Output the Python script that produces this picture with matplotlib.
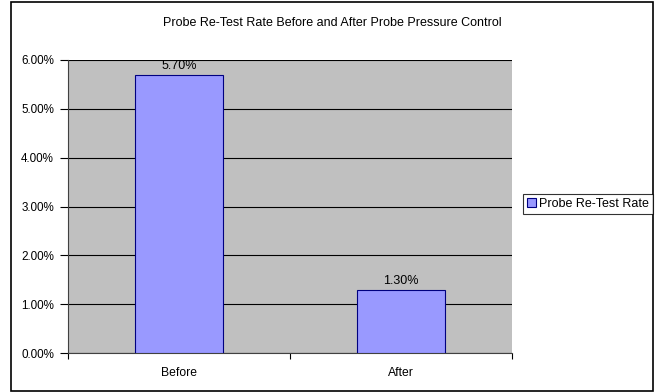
import matplotlib.pyplot as plt
import matplotlib.patches as patches
from matplotlib.ticker import FuncFormatter, FixedLocator

categories = ['Before', 'After']
retest_rate = [0.057, 0.013]
series_name = 'Probe Re-Test Rate'
title = 'Probe Re-Test Rate Before and After Probe Pressure Control'

plt.rcParams['font.family'] = ['Liberation Sans', 'DejaVu Sans']

W, H = 655, 392
fig = plt.figure(figsize=(W / 100, H / 100), dpi=100)

# plot area in pixel coords (left, top, right, bottom)
l, t, r, b = 68, 60, 512, 353
ax = fig.add_axes([l / W, 1 - b / H, (r - l) / W, (b - t) / H])
ax.set_facecolor('#C0C0C0')

x = list(range(len(categories)))
bars = ax.bar(x, retest_rate, width=0.4, color='#9999FF', edgecolor='#000080',
              linewidth=0.8, label=series_name, zorder=3)

ax.set_xlim(-0.5, len(categories) - 0.5)
ax.set_ylim(0, 0.06)
ax.set_yticks([i / 100 for i in range(7)])
ax.yaxis.set_major_formatter(FuncFormatter(lambda v, _: f'{v * 100:.2f}%'))
ax.grid(axis='y', color='black', linewidth=0.8, zorder=1)
ax.set_axisbelow(True)

# category labels sit between boundary ticks
ax.set_xticks(x)
ax.set_xticklabels(categories, fontsize=8.7)
ax.tick_params(axis='x', which='major', length=0, pad=10)
ax.xaxis.set_minor_locator(FixedLocator([-0.5, 0.5, 1.5]))
ax.tick_params(axis='x', which='minor', length=4, width=0.8, direction='out')
ax.tick_params(axis='y', length=5.5, width=0.8, labelsize=8.4, pad=4.5)

for s in ['top', 'right']:
    ax.spines[s].set_visible(False)
for s in ['left', 'bottom']:
    ax.spines[s].set_color('#404040')
    ax.spines[s].set_linewidth(0.8)

for rect, v in zip(bars, retest_rate):
    ax.text(rect.get_x() + rect.get_width() / 2, v + 0.0006, f'{v * 100:.2f}%',
            ha='center', va='bottom', fontsize=9)

fig.text((11 + 653) / 2 / W, 1 - 23 / H, title, ha='center', va='center', fontsize=9)

leg = fig.legend(handles=[bars], labels=[series_name], loc='center left',
                 bbox_to_anchor=(523 / W, 1 - 204 / H), fontsize=9,
                 frameon=True, fancybox=False, edgecolor='black', handlelength=0.7,
                 handleheight=0.7, handletextpad=0.3, borderpad=0.3, borderaxespad=0)
leg.get_frame().set_linewidth(0.8)

# outer chart border
fig.patches.append(patches.Rectangle((11 / W, 1 - 391 / H), 642 / W, 389 / H,
                                     transform=fig.transFigure, fill=False,
                                     edgecolor='black', linewidth=1.2))

fig.savefig('out.png', dpi=100)
